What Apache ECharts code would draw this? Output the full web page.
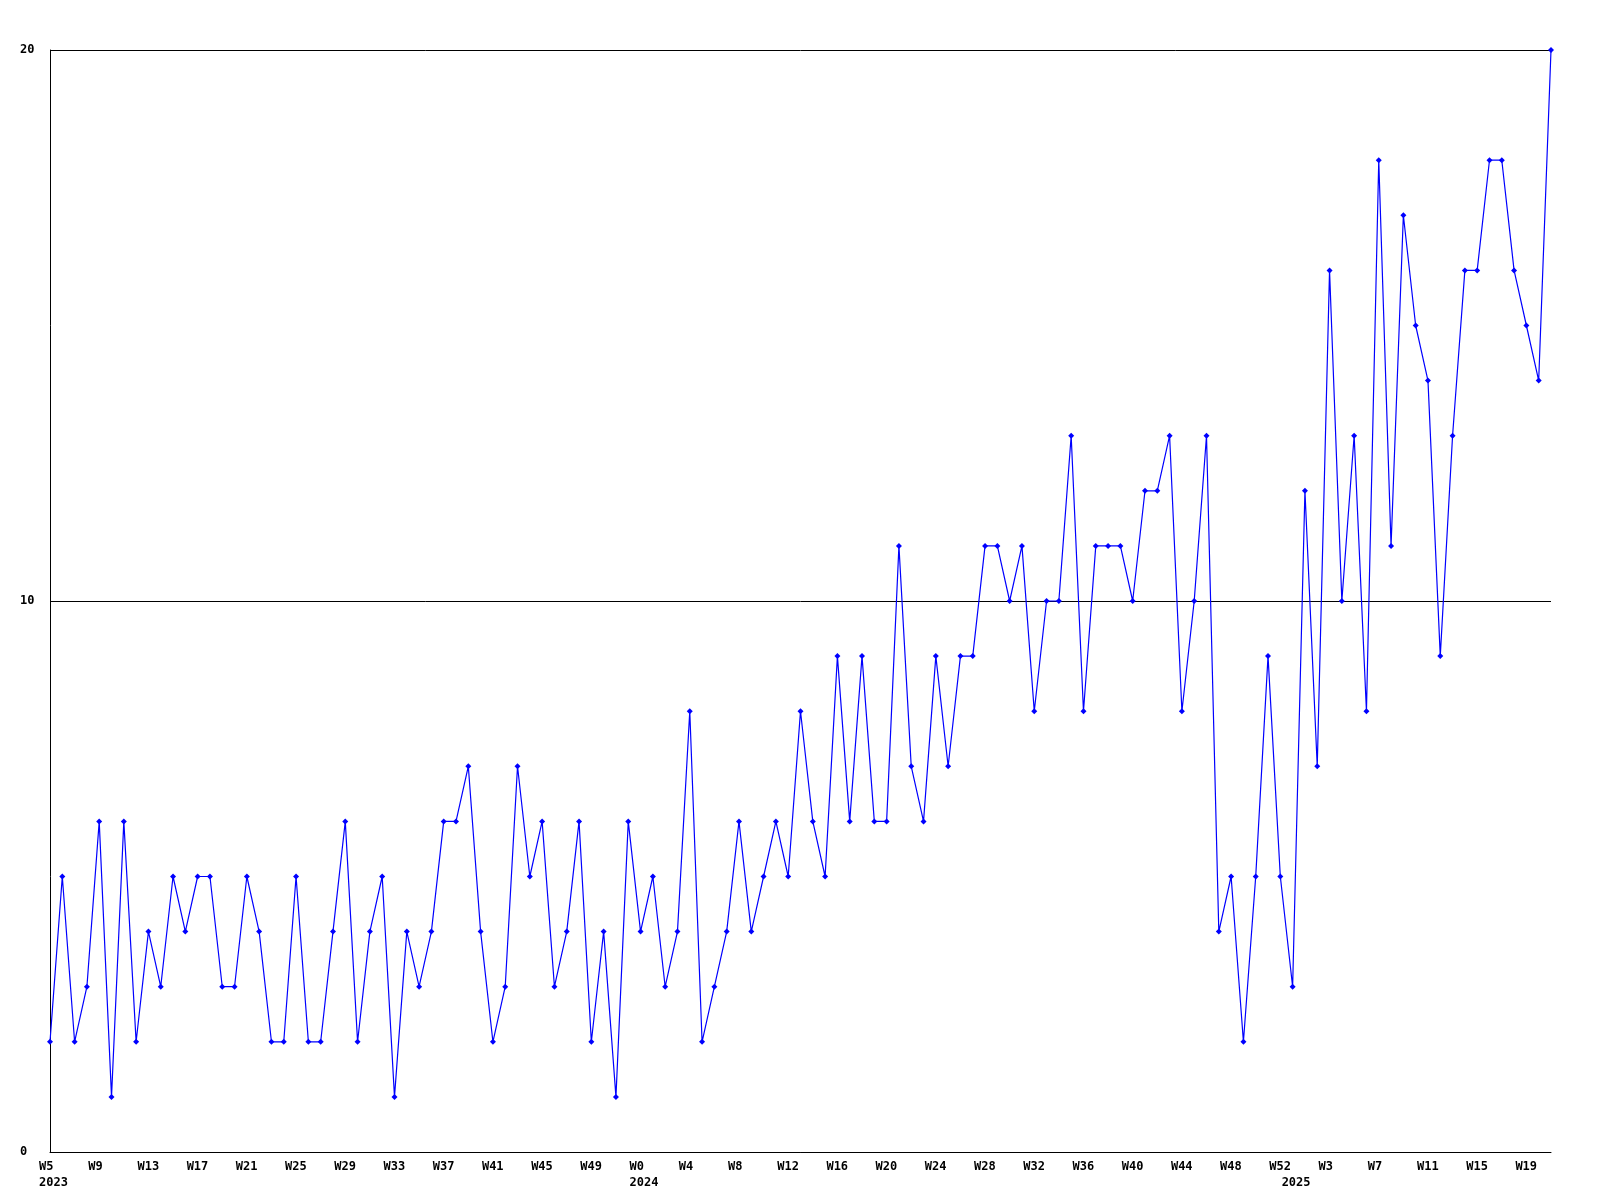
<!DOCTYPE html>
<html>
<head>
<meta charset="utf-8">
<script src="https://cdn.jsdelivr.net/npm/echarts@6/dist/echarts.min.js"></script>
<style>
  html, body { margin: 0; padding: 0; background: #ffffff; }
  #chart { width: 1600px; height: 1200px; }
</style>
</head>
<body>
<div id="chart"></div>
<script>
// Week ranges covered by the series (week label numbering as shown on the axis)
var yearRanges = [
  { year: '2023', firstWeek: 5, lastWeek: 52 },
  { year: '2024', firstWeek: 0, lastWeek: 52 },
  { year: '2025', firstWeek: 0, lastWeek: 21 }
];

// Weekly values
var values2023 = [2,5,2,3,6,1,6,2,4,3, 5,4,5,5,3,3,5,4,2,2, 5,2,2,4,6,2,4,5,1,4, 3,4,6,6,7,4,2,3,7,5, 6,3,4,6,2,4,1,6];
var values2024 = [4,5,3,4,8,2,3,4,6,4,5,6, 5,8,6,5,9,6,9,6,6,11, 7,6,9,7,9,9,11,11,10,11, 8,10,10,13,8,11,11,11,10,12, 12,13,8,10,13,4,5,2,5,9,5];
var values2025 = [3,12,7,16,10,13,8,18,11,17, 15,14,9,13,16,16,18,18,16,15, 14,20];

var yTicks = [0, 10, 20];
var labelEvery = 4;

// Build categories
var categories = [];
var yearStartIndex = {};
yearRanges.forEach(function (r) {
  yearStartIndex[categories.length] = r.year;
  for (var w = r.firstWeek; w <= r.lastWeek; w++) categories.push('W' + w);
});
var values = values2023.concat(values2024, values2025);

var chart = echarts.init(document.getElementById('chart'), null, { renderer: 'canvas' });
var labelFont = { fontFamily: 'DejaVu Sans Mono', fontWeight: 'bold', fontSize: 12, color: '#000000' };

chart.setOption({
  animation: false,
  backgroundColor: '#ffffff',
  grid: { left: 50, right: 49, top: 50, bottom: 48, containLabel: false },
  xAxis: {
    type: 'category',
    data: categories,
    boundaryGap: false,
    axisLine: { show: true, lineStyle: { color: '#000000', width: 1 } },
    axisTick: { show: false },
    splitLine: { show: false },
    axisLabel: Object.assign({
      interval: 0,
      margin: 7,
      lineHeight: 16,
      align: 'left',
      padding: [0, 0, 0, -11],
      hideOverlap: false,
      formatter: function (val, idx) {
        var first = (idx % labelEvery === 0) ? val : '';
        var yr = yearStartIndex[idx];
        if (yr) return (first || ' ') + '\n' + yr;
        return first;
      }
    }, labelFont)
  },
  yAxis: {
    type: 'value',
    min: yTicks[0],
    max: yTicks[yTicks.length - 1],
    interval: 10,
    axisLine: { show: true, lineStyle: { color: '#000000', width: 1 } },
    axisTick: { show: false },
    splitLine: { show: true, lineStyle: { color: '#000000', width: 1 } },
    axisLabel: Object.assign({ margin: 30, align: 'left' }, labelFont)
  },
  series: [{
    type: 'line',
    data: values,
    symbol: 'diamond',
    symbolSize: 6,
    showAllSymbol: true,
    lineStyle: { color: '#0000ff', width: 1.2 },
    itemStyle: { color: '#0000ff' }
  }]
});
</script>
</body>
</html>
